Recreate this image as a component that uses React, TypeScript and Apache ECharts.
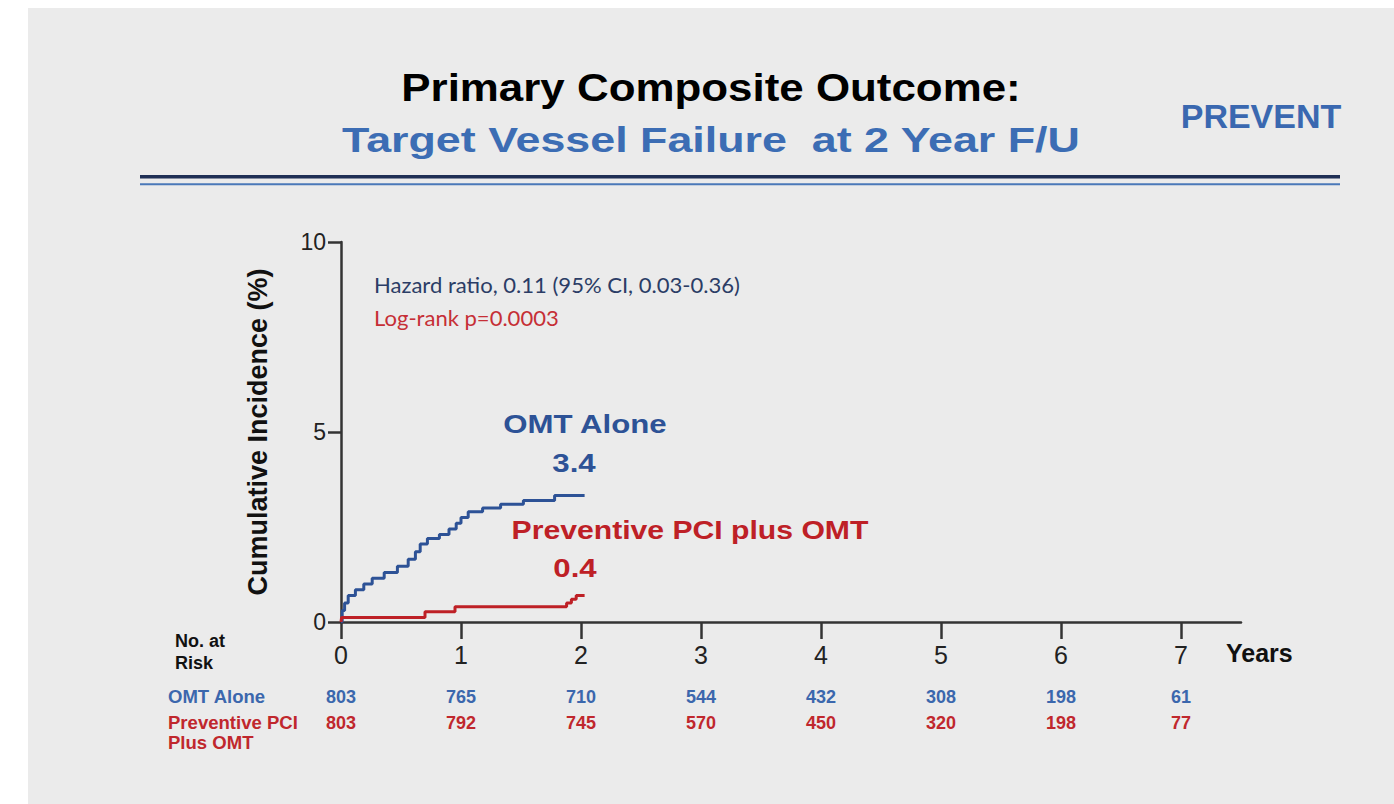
import React, { useEffect, useRef } from "react";
import * as echarts from "echarts";

// ---- data ----
const yearTicks = [0, 1, 2, 3, 4, 5, 6, 7];
const omtAtRisk = [803, 765, 710, 544, 432, 308, 198, 61];
const pciAtRisk = [803, 792, 745, 570, 450, 320, 198, 77];

// Kaplan-Meier cumulative incidence (%), [years, value]
const omtCurve: [number, number][] = [
  [0, 0], [0.01, 0.3], [0.03, 0.5], [0.06, 0.7], [0.12, 0.85], [0.19, 1.0],
  [0.26, 1.15], [0.36, 1.3], [0.47, 1.47], [0.56, 1.65], [0.62, 1.85],
  [0.66, 2.05], [0.72, 2.2], [0.82, 2.3], [0.9, 2.45], [0.96, 2.6],
  [1.0, 2.75], [1.06, 2.9], [1.18, 3.0], [1.33, 3.1], [1.52, 3.2],
  [1.78, 3.33], [2.03, 3.33],
];
const pciCurve: [number, number][] = [
  [0, 0], [0.005, 0.12], [0.7, 0.27], [0.95, 0.4], [1.88, 0.5],
  [1.92, 0.6], [1.96, 0.7], [2.03, 0.7],
];

const BLUE = "#2d5296";
const RED = "#be2026";
const TBLUE = "#3b67ad";
const TRED = "#c0272d";
const FONT = "'Liberation Sans', Arial, sans-serif";

function txt(
  text: string, x: number, y: number, size: number, color: string,
  opts: { bold?: boolean; align?: string; sx?: number; family?: string } = {}
) {
  return {
    type: "text",
    x, y,
    scaleX: opts.sx ?? 1,
    z: 10,
    style: {
      text,
      fontSize: size,
      fontWeight: opts.bold ? "bold" : "normal",
      fontFamily: opts.family ?? FONT,
      fill: color,
      align: opts.align ?? "left",
      verticalAlign: "middle",
    },
  };
}

export default function App() {
  const ref = useRef<HTMLDivElement>(null);
  useEffect(() => {
    if (!ref.current) return;
    const chart = echarts.init(ref.current, undefined, { renderer: "svg" });
    const baseGraphics: any[] = [
      { type: "rect", z: -10, shape: { x: 28, y: 8, width: 1366, height: 796 }, style: { fill: "#ebebeb" } },
      txt("Primary Composite Outcome:", 711, 88, 38, "#000", { bold: true, align: "center", sx: 1.155 }),
      txt("Target Vessel Failure  at 2 Year F/U", 711, 140, 36, "#3c6db4", { bold: true, align: "center", sx: 1.245 }),
      txt("PREVENT", 1261, 116, 34, "#3a68b0", { bold: true, align: "center" }),
      { type: "rect", shape: { x: 140, y: 175, width: 1200, height: 3.5 }, style: { fill: "#1f2f55" } },
      { type: "rect", shape: { x: 140, y: 183.3, width: 1200, height: 2 }, style: { fill: "#4a78b8" } },
      txt("Hazard ratio, 0.11 (95% CI, 0.03-0.36)", 374, 285, 21, "#2b3d66", { family: "Lato, 'Open Sans', sans-serif", sx: 1.05 }),
      txt("Log-rank p=0.0003", 374, 318, 21, "#c62f36", { family: "Lato, 'Open Sans', sans-serif", sx: 1.05 }),
      txt("OMT Alone", 585, 424, 26, BLUE, { bold: true, align: "center", sx: 1.2 }),
      txt("3.4", 574, 463, 26, BLUE, { bold: true, align: "center", sx: 1.2 }),
      txt("Preventive PCI plus OMT", 690, 530, 26, RED, { bold: true, align: "center", sx: 1.16 }),
      txt("0.4", 575, 568, 26, RED, { bold: true, align: "center", sx: 1.2 }),
      txt("Years", 1226, 653, 25, "#111", { bold: true }),
      txt("No. at", 175, 641, 18, "#111", { bold: true }),
      txt("Risk", 175, 663, 18, "#111", { bold: true }),
      txt("OMT Alone", 168, 697, 18, TBLUE, { bold: true, sx: 1.03 }),
      txt("Preventive PCI", 168, 723, 18, TRED, { bold: true, sx: 1.03 }),
      txt("Plus OMT", 168, 743, 18, TRED, { bold: true, sx: 1.03 }),
    ];
    const option: any = {
      animation: false,
      backgroundColor: "#ffffff",
      grid: { left: 341, top: 242, width: 900, height: 380, containLabel: false, outerBoundsMode: "none" },
      xAxis: {
        type: "value",
        min: 0,
        max: 7.5,
        interval: 1,
        splitLine: { show: false },
        axisLine: { show: true, lineStyle: { color: "#333", width: 2.5 } },
        axisTick: { show: true, length: 17, lineStyle: { color: "#333", width: 2.5 }, customValues: yearTicks },
        axisLabel: { fontSize: 25, color: "#222", margin: 20, fontFamily: FONT, customValues: yearTicks },
      },
      yAxis: {
        type: "value",
        min: 0,
        max: 10,
        interval: 5,
        name: "Cumulative Incidence (%)",
        nameLocation: "middle",
        nameGap: 70,
        nameTextStyle: { fontSize: 27, fontWeight: "bold", color: "#111", fontFamily: FONT },
        splitLine: { show: false },
        axisLine: { show: true, lineStyle: { color: "#333", width: 2.5 } },
        axisTick: { show: true, length: 13, lineStyle: { color: "#333", width: 2.5 } },
        axisLabel: { fontSize: 23, color: "#222", margin: 15, fontFamily: FONT },
      },
      series: [
        {
          name: "OMT Alone",
          type: "line",
          step: "end",
          symbol: "none",
          data: omtCurve,
          lineStyle: { color: BLUE, width: 3 },
          z: 3,
        },
        {
          name: "Preventive PCI plus OMT",
          type: "line",
          step: "end",
          symbol: "none",
          data: pciCurve,
          lineStyle: { color: RED, width: 3 },
          z: 4,
        },
      ],
      graphic: baseGraphics,
    };
    chart.setOption(option);

    const riskGraphics: any[] = [];
    yearTicks.forEach((yr, i) => {
      const px = chart.convertToPixel({ gridIndex: 0 }, [yr, 0]) as number[];
      riskGraphics.push(txt(String(omtAtRisk[i]), px[0], 697, 18, TBLUE, { bold: true, align: "center" }));
      riskGraphics.push(txt(String(pciAtRisk[i]), px[0], 723, 18, TRED, { bold: true, align: "center" }));
    });
    chart.setOption({ graphic: [...baseGraphics, ...riskGraphics] });

    return () => chart.dispose();
  }, []);
  return (
    <div
      ref={ref}
      style={{ position: "fixed", left: 0, top: 0, width: 1394, height: 804 }}
    />
  );
}
